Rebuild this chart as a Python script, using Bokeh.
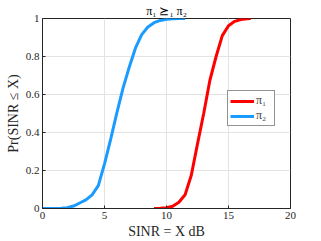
from bokeh.plotting import figure
from bokeh.models import Range1d, FixedTicker, Legend, LegendItem
from bokeh.embed import file_html
from bokeh.resources import INLINE

# ---- data ----
pi2_x = [0, 1, 1.5, 2, 2.5, 3, 3.5, 4, 4.5, 5, 5.5, 6, 6.5, 7, 7.5, 8, 8.5, 9, 9.5, 10, 10.5, 11, 11.5]
pi2_y = [0, 0.0, 0.001, 0.004, 0.013, 0.029, 0.045, 0.072, 0.12, 0.235, 0.365, 0.505, 0.635,
         0.745, 0.845, 0.915, 0.955, 0.978, 0.99, 0.996, 0.999, 1.0, 1.0]

pi1_x = [9, 9.5, 10, 10.5, 11, 11.5, 12, 12.5, 13, 13.5, 14, 14.5, 15, 15.5, 16, 16.5, 16.8]
pi1_y = [0, 0.001, 0.004, 0.012, 0.033, 0.072, 0.175, 0.34, 0.5, 0.675, 0.80, 0.91, 0.962,
         0.985, 0.995, 0.999, 1.0]

x_ticks = [0, 5, 10, 15, 20]
y_ticks = [0, 0.2, 0.4, 0.6, 0.8, 1]
y_tick_labels = ["0", "0.2", "0.4", "0.6", "0.8", "1"]

series_labels = ["\u03c0\u2081", "\u03c0\u2082"]
title_text = "\u03c0\u2081 \u2ab0\u2081 \u03c0\u2082"
x_label = "SINR = X dB"
y_label = "Pr(SINR \u2264 X)"

FONT = "Liberation Serif"
AX = "#262626"

p = figure(width=321, height=241, output_backend="svg", toolbar_location=None,
           x_range=Range1d(0, 20), y_range=Range1d(0, 1),
           min_border_left=42, min_border_right=31, min_border_top=17, min_border_bottom=32)

p.title.text = title_text
p.title.align = "center"
p.title.text_font = FONT
p.title.text_font_size = "12px"
p.title.text_font_style = "normal"
p.title.text_color = "#000000"
p.title.offset = 0
p.title.standoff = 2

p.outline_line_color = AX
p.outline_line_width = 1
p.outline_line_alpha = 1

for ax in (p.xaxis[0], p.yaxis[0]):
    ax.axis_line_color = AX
    ax.major_tick_line_color = AX
    ax.major_tick_in = 3
    ax.major_tick_out = 0
    ax.minor_tick_line_color = None
    ax.major_label_text_font = FONT
    ax.major_label_text_font_size = "11px"
    ax.major_label_text_color = "#262626"
    ax.axis_label_text_font = FONT
    ax.axis_label_text_font_size = "14px"
    ax.axis_label_text_font_style = "normal"
    ax.axis_label_text_color = "#262626"
    ax.major_label_standoff = 3
    ax.axis_label_standoff = 2

p.xaxis.ticker = FixedTicker(ticks=x_ticks)
p.yaxis.ticker = FixedTicker(ticks=y_ticks)
p.yaxis.major_label_overrides = {float(t): l for t, l in zip(y_ticks, y_tick_labels)}
p.xaxis.axis_label = x_label
p.yaxis.axis_label = y_label

p.xgrid.ticker = FixedTicker(ticks=x_ticks)
p.ygrid.ticker = FixedTicker(ticks=y_ticks)
p.grid.grid_line_color = "#e3e3e3"
p.grid.grid_line_width = 1

r1 = p.line(pi1_x, pi1_y, line_color="#ff0000", line_width=3)
r2 = p.line(pi2_x, pi2_y, line_color="#1a9bff", line_width=3)

legend = Legend(items=[LegendItem(label=series_labels[0], renderers=[r1]),
                       LegendItem(label=series_labels[1], renderers=[r2])],
                location=(185, 82))
legend.border_line_color = AX
legend.border_line_width = 1
legend.background_fill_color = "white"
legend.background_fill_alpha = 1
legend.label_text_font = FONT
legend.label_text_font_size = "12px"
legend.padding = 2
legend.spacing = 0
legend.margin = 0
legend.glyph_width = 24
legend.glyph_height = 14
legend.label_height = 14
legend.label_width = 16
legend.label_standoff = 2
p.add_layout(legend, "center")

open("out.html", "w").write(file_html(p, INLINE))
